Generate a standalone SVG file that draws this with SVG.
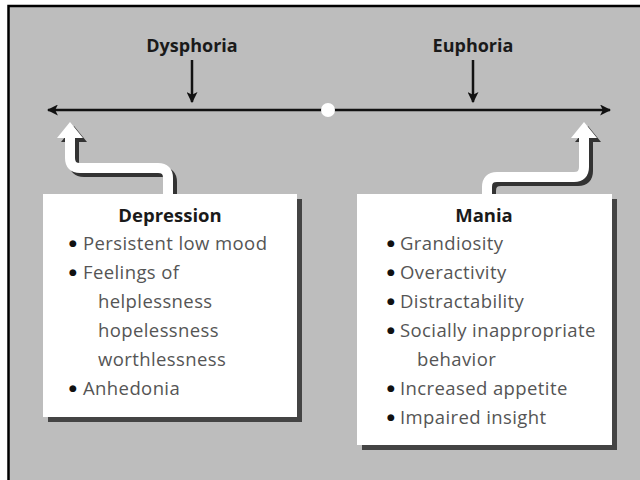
<svg xmlns="http://www.w3.org/2000/svg" width="640" height="480" viewBox="0 0 640 480">
<defs>
<style>
.lbl{font-family:"Open Sans","Liberation Sans",sans-serif;font-weight:bold;font-size:18px;fill:#1a1a1a;text-anchor:middle}
.ttl{font-family:"Open Sans","Liberation Sans",sans-serif;font-weight:bold;font-size:18.5px;fill:#1a1a1a;text-anchor:middle}
.itm{font-family:"Open Sans","Liberation Sans",sans-serif;font-size:18.5px;letter-spacing:0.4px;fill:#555555}
.bul{font-family:"DejaVu Sans",sans-serif;fill:#111111;font-size:9px;letter-spacing:0}
.box{fill:#ffffff}
.shd{fill:#444444}
.axis{stroke:#111;stroke-width:2.5;fill:none}
.fat{stroke:#ffffff;stroke-width:10;fill:none}
.fatshd{stroke:#333333;stroke-width:10;fill:none}
</style>
<marker id="ah" viewBox="0 0 10 10" refX="9" refY="5" markerWidth="4.4" markerHeight="4.4" orient="auto-start-reverse" markerUnits="strokeWidth">
<path d="M0,0 L10,5 L0,10 L2.5,5 Z" fill="#111"/>
</marker>
</defs>
<rect x="0" y="0" width="640" height="480" fill="#ffffff"/>
<rect x="8.5" y="6" width="700" height="600" fill="#bdbdbd" stroke="#000" stroke-width="2.5"/>

<g id="connectors">
<line class="axis" x1="48" y1="110" x2="610" y2="110" marker-start="url(#ah)" marker-end="url(#ah)"/>
<line class="axis" x1="192" y1="60" x2="192" y2="102" marker-end="url(#ah)"/>
<line class="axis" x1="473" y1="60" x2="473" y2="102" marker-end="url(#ah)"/>
<g id="arrow-depression">
<g transform="translate(4,4)">
<path class="fatshd" d="M168,194 V178 Q168,168 158,168 H80 Q70,168 70,158 V136"/>
<polygon points="57,138 70,122 83,138" fill="#333"/>
</g>
<path class="fat" d="M168,196 V178 Q168,168 158,168 H80 Q70,168 70,158 V136"/>
<polygon points="57,138 70,122 83,138" fill="#fff"/>
</g>
<g id="arrow-mania">
<g transform="translate(4,4)">
<path class="fatshd" d="M487,194 V187 Q487,177 497,177 H574 Q584,177 584,167 V136"/>
<polygon points="571,138 584,122 597,138" fill="#333"/>
</g>
<path class="fat" d="M487,196 V187 Q487,177 497,177 H574 Q584,177 584,167 V136"/>
<polygon points="571,138 584,122 597,138" fill="#fff"/>
</g>
</g>

<g id="center-dot"><circle cx="328" cy="110" r="7" fill="#ffffff"/></g>

<g id="dysphoria"><text class="lbl" x="192" y="52">Dysphoria</text></g>
<g id="euphoria"><text class="lbl" x="473" y="52">Euphoria</text></g>

<g id="depression">
<rect class="shd" x="48" y="199" width="254" height="223"/>
<rect class="box" x="43" y="194" width="254" height="223"/>
<text class="ttl" x="170" y="222">Depression</text>
<text class="itm"><tspan class="bul" x="69" y="246">●</tspan><tspan x="83" y="250">Persistent low mood</tspan></text>
<text class="itm"><tspan class="bul" x="69" y="275">●</tspan><tspan x="83" y="279">Feelings of</tspan></text>
<text class="itm" x="98" y="308">helplessness</text>
<text class="itm" x="98" y="337">hopelessness</text>
<text class="itm" x="98" y="366">worthlessness</text>
<text class="itm"><tspan class="bul" x="69" y="391">●</tspan><tspan x="83" y="395">Anhedonia</tspan></text>
</g>

<g id="mania">
<rect class="shd" x="362" y="199" width="255" height="251"/>
<rect class="box" x="357" y="194" width="255" height="251"/>
<text class="ttl" x="484" y="222">Mania</text>
<text class="itm"><tspan class="bul" x="387" y="246">●</tspan><tspan x="400" y="250">Grandiosity</tspan></text>
<text class="itm"><tspan class="bul" x="387" y="275">●</tspan><tspan x="400" y="279">Overactivity</tspan></text>
<text class="itm"><tspan class="bul" x="387" y="304">●</tspan><tspan x="400" y="308">Distractability</tspan></text>
<text class="itm"><tspan class="bul" x="387" y="333">●</tspan><tspan x="400" y="337">Socially inappropriate</tspan></text>
<text class="itm" x="417" y="366">behavior</text>
<text class="itm"><tspan class="bul" x="387" y="391">●</tspan><tspan x="400" y="395">Increased appetite</tspan></text>
<text class="itm"><tspan class="bul" x="387" y="420">●</tspan><tspan x="400" y="424">Impaired insight</tspan></text>
</g>
</svg>
